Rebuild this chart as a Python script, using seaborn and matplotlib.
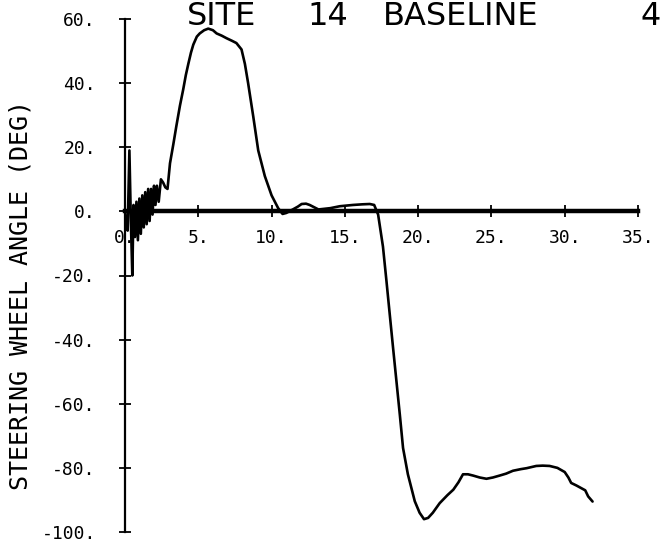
import numpy as np
import pandas as pd
import matplotlib
matplotlib.use("Agg")
import matplotlib.pyplot as plt
import seaborn as sns

# ---- data ----
time_s = [0.00, 0.08, 0.18, 0.30, 0.40, 0.50, 0.58, 0.68, 0.78, 0.88, 0.98,
          1.08, 1.18, 1.28, 1.38, 1.48, 1.58, 1.68, 1.78, 1.88, 1.98, 2.08,
          2.18, 2.30, 2.45, 2.60, 2.75, 2.90, 3.07, 3.30, 3.50, 3.75, 3.97,
          4.15, 4.32, 4.50, 4.66, 4.90, 5.10, 5.40, 5.68, 6.00, 6.25, 6.60,
          6.93, 7.30, 7.60, 7.95, 8.18, 8.40, 8.75, 9.09, 9.54, 10.00, 10.45,
          10.75, 11.00, 11.45, 11.80, 12.05, 12.35, 12.60, 13.20, 14.00, 14.65,
          15.55, 16.20, 16.70, 17.00, 17.27, 17.60, 17.84, 18.06, 18.29, 18.52,
          18.75, 18.97, 19.30, 19.77, 20.10, 20.40, 20.68, 21.00, 21.47, 22.00,
          22.40, 22.75, 23.06, 23.40, 23.75, 24.20, 24.66, 25.10, 25.56, 26.00,
          26.47, 27.00, 27.40, 28.06, 28.50, 28.97, 29.50, 30.00, 30.25, 30.44,
          30.80, 31.20, 31.40, 31.60, 31.90]
angle_deg = [0.0, -4.0, -6.0, 19.0, -3.0, -20.0, 2.0, -8.0, 3.0, -9.0, 4.0,
             -7.0, 5.0, -5.0, 6.0, -4.0, 7.0, -3.0, 7.0, -1.0, 8.0, 2.0,
             8.0, 3.0, 10.0, 9.0, 7.5, 7.0, 15.0, 21.0, 26.5, 33.0, 38.0,
             42.5, 46.0, 49.5, 52.0, 54.5, 55.5, 56.5, 57.0, 56.5, 55.5, 54.8,
             54.0, 53.2, 52.5, 50.5, 46.0, 40.0, 29.6, 19.0, 11.0, 5.0, 1.0,
             -0.8, -0.5, 0.6, 1.5, 2.3, 2.4, 2.0, 0.6, 1.0, 1.6,
             2.0, 2.2, 2.3, 2.0, -1.0, -11.0, -21.8, -32.0, -42.6, -53.0,
             -63.4, -73.8, -82.0, -90.4, -94.0, -96.0, -95.6, -94.0, -91.0, -88.5,
             -86.8, -84.5, -82.0, -82.0, -82.4, -83.0, -83.4, -83.0, -82.4, -81.8,
             -80.9, -80.4, -80.1, -79.4, -79.3, -79.4, -80.0, -81.3, -83.0, -84.7,
             -85.5, -86.5, -87.0, -88.9, -90.5]

x_ticks = [0, 5, 10, 15, 20, 25, 30, 35]
x_tick_labels = ["0.", "5.", "10.", "15.", "20.", "25.", "30.", "35."]
y_ticks = [-100, -80, -60, -40, -20, 0, 20, 40, 60]
y_tick_labels = ["-100.", "-80.", "-60.", "-40.", "-20.", "0.", "20.", "40.", "60."]

y_label = "STEERING WHEEL ANGLE (DEG)"
title_words = ["SITE", "14", "BASELINE", "4"]

df = pd.DataFrame({"t": time_s, "angle": angle_deg})

sns.set_theme(style="white")
plt.rcParams["font.family"] = ["DejaVu Sans Mono", "DejaVu Sans"]

W, H = 661, 546
fig = plt.figure(figsize=(W / 100, H / 100), dpi=100)
fig.patch.set_facecolor("white")
ax = fig.add_axes([125 / W, (H - 532) / H, (638 - 125) / W, (532 - 19) / H])
ax.set_facecolor("white")

sns.lineplot(data=df, x="t", y="angle", ax=ax, color="black", linewidth=1.9,
             estimator=None, sort=False, legend=False)

ax.set_xlim(0, 35)
ax.set_ylim(-100, 60)
ax.set_xlabel("")
ax.set_ylabel("")

for s in ["top", "right"]:
    ax.spines[s].set_visible(False)
ax.spines["bottom"].set_position(("data", 0))
ax.spines["bottom"].set_linewidth(3.2)
ax.spines["bottom"].set_color("black")
ax.spines["left"].set_linewidth(1.6)
ax.spines["left"].set_color("black")

ax.set_xticks(x_ticks)
ax.set_xticklabels(x_tick_labels)
ax.set_yticks(y_ticks)
ax.set_yticklabels(y_tick_labels)
ax.tick_params(axis="both", direction="inout", length=8, width=1.3,
               colors="black", labelsize=13, bottom=True, left=True)
ax.tick_params(axis="x", pad=9)
ax.tick_params(axis="y", pad=17)
ax.grid(False)

fig.text(21 / W, (H - 295) / H, y_label, rotation=90, ha="center", va="center",
         fontsize=18, color="black", family=["DejaVu Sans Mono"])

# handwritten-style title along the top edge
title_x = [187, 307, 383, 640]
for word, xp in zip(title_words, title_x):
    fig.text(xp / W, (H - 25) / H, word, ha="left", va="baseline",
             fontsize=23, color="black", family=["DejaVu Sans"])

fig.savefig("out.png", dpi=100)
